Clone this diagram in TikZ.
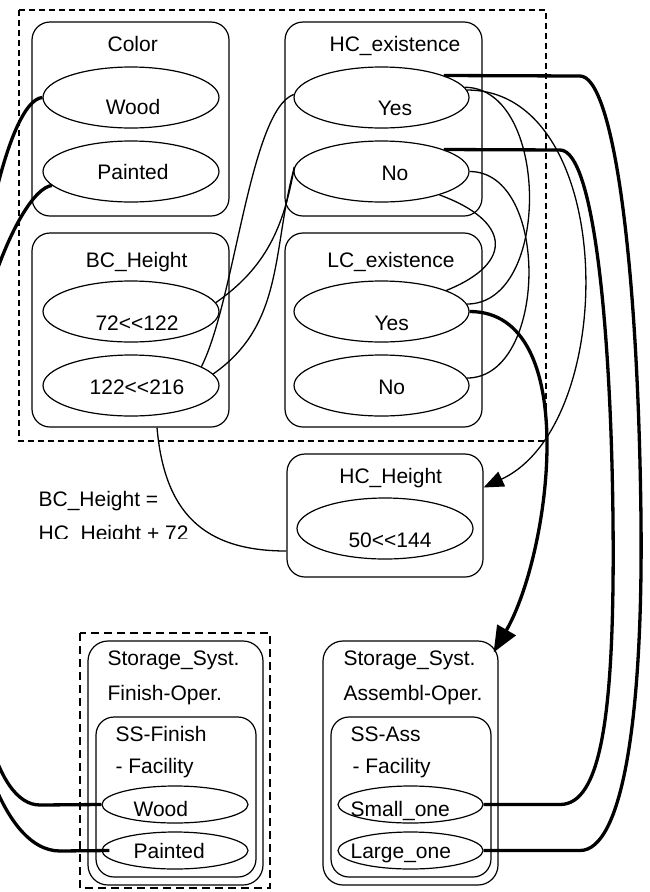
\documentclass[tikz,border=0pt]{standalone}
\usepackage{fontspec}
\setmainfont{Liberation Sans}
\usetikzlibrary{shapes}
\usetikzlibrary{arrows.meta}
\tikzset{
	node_box/.style = {
		draw=black,
		rounded corners=18pt,
		inner sep=0pt
	},
	node_box_big/.style = {
		node_box,
		minimum width=197pt,
		minimum height=194pt
	},
	node_val/.style = {
		ellipse,
		draw=black,
		inner sep=0pt,
		minimum width=176pt,
		minimum height=61pt
	},
	node_val_small/.style = {
		node_val,
		minimum width=146pt,
		minimum height=37pt
	},
	node_txt/.style = {
		inner sep=0pt,
		anchor=base
	},
	node_txt_left/.style = {
		node_txt,
		anchor=base west
	},
	dash_box/.style = {
		dash pattern=on 6pt off 4pt
	},
	dash_box_bold/.style = {
		line width=2pt,
		dash pattern=on 8pt off 5pt
	},
	link/.style = {
		line width=1.3pt
	},
	link_bold/.style = {
		line width=3.3pt
	},
}

\begin{document}
\begin{tikzpicture}[x=1pt, y=1pt, line width=1.2pt, font=\fontsize{21}{25}\selectfont, >={Triangle[length=20pt,width=16pt]}]
\useasboundingbox (0,0) rectangle (649,-892);
\clip (0,0) rectangle (649,-892);

% upper group
\draw[dash_box] (19,-10) rectangle (546,-441);
\node[node_box_big] (color) at (130.5,-119) {};
\node[node_box_big] (bch) at (130.5,-330) {};
\node[node_box_big] (hce) at (383.5,-119) {};
\node[node_box_big] (lce) at (383.5,-330) {};
\node[node_txt] (color_t) at (132.7,-51.5) {Color};
\node[node_txt] (bch_t) at (136.7,-267) {BC\_Height};
\node[node_txt] (hce_t) at (395,-51.5) {HC\_existence};
\node[node_txt] (lce_t) at (391,-267.5) {LC\_existence};

\node[node_val] (cwood) at (131,-97.5) {};
\node[node_val] (cpaint) at (131,-171.5) {};
\node[node_val] (bc1) at (131,-311.5) {};
\node[node_val] (bc2) at (131,-385.5) {};
\node[node_txt] (cwood_t) at (133,-114.5) {Wood};
\node[node_txt] (cpaint_t) at (133,-179) {Painted};
\node[node_txt] (bc1_t) at (137,-330) {72<{}<122};
\node[node_txt] (bc2_t) at (137,-394) {122<{}<216};

\node[node_val, minimum width=175pt] (hcyes) at (381.5,-97.5) {};
\node[node_val, minimum width=175pt] (hcno) at (381.5,-171.5) {};
\node[node_val, minimum width=175pt] (lcyes) at (381.5,-311.5) {};
\node[node_val, minimum width=175pt] (lcno) at (381.5,-385.5) {};
\node[node_txt] (hcyes_t) at (395,-115) {Yes};
\node[node_txt] (hcno_t) at (395,-180) {No};
\node[node_txt] (lcyes_t) at (391.7,-330) {Yes};
\node[node_txt] (lcno_t) at (391.7,-394) {No};

% HC height
\node[node_box, minimum width=196pt, minimum height=123pt] (hch) at (385,-515.5) {};
\node[node_txt] (hch_t) at (390.7,-483) {HC\_Height};
\node[node_val] (hcval) at (385,-528.5) {};
\node[node_txt] (hcval_t) at (390,-547) {50<{}<144};

\node[node_txt_left] (eq1) at (38,-506) {BC\_Height =};
\begin{scope}
\clip (30,-470) rectangle (220,-538);
\node[node_txt_left] (eq2) at (38,-540) {HC\_Height + 72};
\end{scope}

% storage systems
\draw[dash_box_bold] (80,-633) rectangle (270,-888);
\node[node_box, rounded corners=20pt, minimum width=175pt, minimum height=244pt] (fout) at (175.5,-763) {};
\node[node_box, minimum width=160pt, minimum height=160pt] (fin) at (176,-797) {};
\node[node_txt_left] (fout_t1) at (107,-665) {Storage\_Syst.};
\node[node_txt_left] (fout_t2) at (107,-700) {Finish-Oper.};
\node[node_txt_left] (fin_t1) at (115,-741) {SS-Finish};
\node[node_txt_left] (fin_t2) at (115,-773) {- Facility};
\node[node_val_small] (fwood) at (175,-804.5) {};
\node[node_val_small] (fpaint) at (175,-850.5) {};
\node[node_txt_left] (fwood_t) at (133,-816) {Wood};
\node[node_txt_left] (fpaint_t) at (133,-858) {Painted};

\node[node_box, rounded corners=20pt, minimum width=175pt, minimum height=244pt] (aout) at (410.5,-763) {};
\node[node_box, minimum width=160pt, minimum height=160pt] (ain) at (411,-797) {};
\node[node_txt_left] (aout_t1) at (343,-665) {Storage\_Syst.};
\node[node_txt_left] (aout_t2) at (343,-700) {Assembl-Oper.};
\node[node_txt_left] (ain_t1) at (350,-741) {SS-Ass};
\node[node_txt_left] (ain_t2) at (352,-773) {- Facility};
\node[node_val_small, minimum width=145pt] (asmall) at (410.5,-804.5) {};
\node[node_val_small, minimum width=145pt] (alarge) at (410.5,-850.5) {};
\node[node_txt_left] (asmall_t) at (350,-816) {Small\_one};
\node[node_txt_left] (alarge_t) at (350,-858) {Large\_one};

% thin links
\draw[link] (bc1.6) to[out=35,in=-100] (hcno.177);
\draw[link] (bc2.15) .. controls (235,-300) and (250,-110) .. (hcyes.178);
\draw[link] (bc2.8) to[out=35,in=-105] (hcno.177);
\draw[link] (hcyes.7) to[out=0,in=0] (lcyes.5);
\draw[link] (hcno.east) to[out=0,in=0] (lcno.5);
\draw[link] (hcno.-22) to[out=-20,in=22,looseness=2] (lcyes.18);
\draw[link,->] (hcyes.5) to[out=0,in=25,looseness=0.97] ([yshift=28pt]hch.east);
\draw[link] ([xshift=26.5pt]bch.south) to[out=-85,in=180,looseness=1.2] ([yshift=-35.5pt]hch.west);

% bold links
\draw[link_bold,-{Triangle[length=26pt,width=21pt]}] (lcyes.east) to[out=0,in=60,looseness=0.85] ([shift={(-5pt,-12pt)}]aout.north east);
\draw[link_bold] (cwood.west) .. controls (8,-100) and (-32,-270) .. (-34,-470) .. controls (-36,-700) and (-5,-805) .. (40,-805) -- (fwood.west);
\draw[link_bold] (cpaint.190) .. controls (18,-190) and (-44,-340) .. (-44,-520) .. controls (-44,-720) and (0,-851) .. (60,-851) -- ([xshift=8pt]fpaint.west);
\draw[link_bold] (hcyes.north east) -- (580,-76) .. controls (612,-76) and (638,-250) .. (641,-520) .. controls (643,-720) and (622,-850.5) .. (580,-850.5) -- (alarge.east);
\draw[link_bold] (hcno.north east) -- (560,-150) .. controls (594,-150) and (611,-330) .. (613,-520) .. controls (615,-720) and (600,-804.5) .. (560,-804.5) -- (asmall.east);
\end{tikzpicture}
\end{document}
